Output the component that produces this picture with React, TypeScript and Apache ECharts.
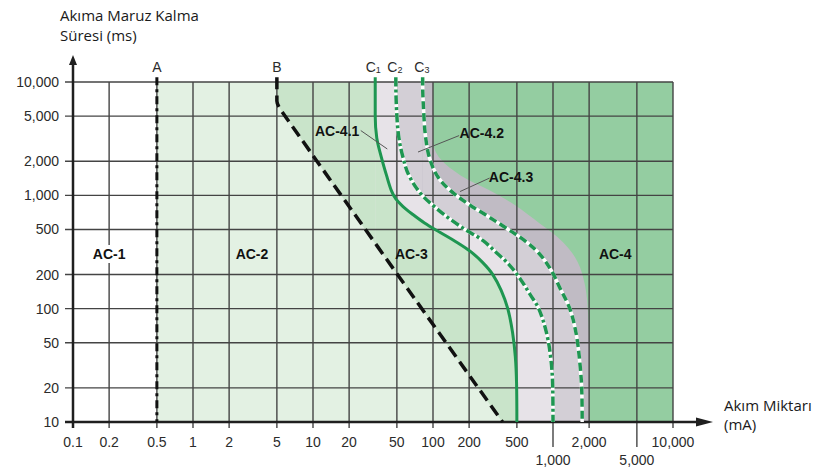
import { useEffect, useRef } from 'react';
import * as echarts from 'echarts';

// ---------- axis ticks ----------
const xTicks = [0.1, 0.2, 0.5, 1, 2, 5, 10, 20, 50, 100, 200, 500, 1000, 2000, 5000, 10000];
const xTickLabels = ['0.1', '0.2', '0.5', '1', '2', '5', '10', '20', '50', '100', '200', '500', '1,000', '2,000', '5,000', '10,000'];
const xTickLowered = ['1,000', '5,000'];
const yTicks = [10, 20, 50, 100, 200, 500, 1000, 2000, 5000, 10000];
const yTickLabels = ['10', '20', '50', '100', '200', '500', '1,000', '2,000', '5,000', '10,000'];

// ---------- boundary curves [current mA, time ms], top -> bottom ----------
const curveA = [[0.5, 10000], [0.5, 10]];
const curveB = [[5, 10000], [5, 6800], [5.5, 5500], [380, 10]];
const curveC1 = [[33, 10000], [33, 5000], [34, 3200], [37, 2200], [41, 1500], [45, 1100], [49, 930], [56, 800], [67, 685], [85, 570], [115, 470], [155, 390], [205, 320], [260, 255], [315, 200], [370, 145], [420, 100], [460, 62], [485, 38], [497, 22], [500, 10]];
const curveC2 = [[49, 10000], [50, 5000], [52, 3200], [56, 2200], [63, 1500], [80, 1020], [105, 780], [135, 630], [185, 500], [260, 400], [340, 310], [430, 245], [530, 185], [640, 135], [760, 100], [880, 62], [960, 36], [995, 20], [1000, 10]];
const curveC3 = [[82, 10000], [84, 5000], [87, 3200], [94, 2100], [110, 1450], [140, 1100], [190, 860], [270, 680], [400, 520], [560, 410], [760, 310], [960, 220], [1150, 150], [1380, 100], [1560, 60], [1680, 32], [1740, 18], [1750, 10]];
const curveAC43Edge = [[100, 10000], [100, 3000], [115, 2100], [170, 1500], [290, 1120], [480, 820], [780, 560], [1200, 390], [1600, 260], [1850, 160], [1960, 90], [2000, 40], [2000, 10]];
const curveFull = [[10000, 10000]];

// ---------- zone labels ----------
const zoneLabels = ['AC-1', 'AC-2', 'AC-3', 'AC-4', 'AC-4.1', 'AC-4.2', 'AC-4.3'];
const zoneLabelPos = [[0.2, 304], [3.1, 304], [66, 304], [3300, 304], [15.9, 3730], [255, 3580], [447, 1440]];
const leaderLines = [[25, 3730, 41.6, 2565], [165, 3366, 75, 2411], [296, 1420, 168, 1080]];
const curveNames = ['A', 'B', 'C', 'C', 'C'];
const curveSubs = ['', '', '1', '2', '3'];
const curveLabelAt = [0.5, 5, 33, 50, 84];

const X_MIN = 0.1, X_MAX = 10000, Y_MIN = 10, Y_MAX = 10000;

const GREEN = '#1e9651';
const GRID = '#444444';
const FONT = '"Liberation Sans", Arial, Helvetica, sans-serif';
const TITLE_FONT = '"Open Sans", "Noto Sans", sans-serif';

// region left of a curve = rectangle up to the curve's top point + area under the curve itself
function zone(curve: number[][], color: any, smooth: number) {
  const base = {
    type: 'line',
    symbol: 'none',
    lineStyle: { width: 0, opacity: 0 },
    areaStyle: { color, opacity: 1, origin: 'start' },
    z: 1,
    silent: true,
  };
  return [
    { ...base, data: [[X_MIN, Y_MAX], [curve[0][0], Y_MAX]] },
    { ...base, data: curve, smooth },
  ];
}

function boundary(curve: number[][], color: string, width: number, type: any, z: number, smooth: number) {
  return {
    type: 'line',
    data: [[curve[0][0], Y_MAX * 1.1], ...curve],
    symbol: 'none',
    clip: false,
    smooth,
    lineStyle: { color, width, type, cap: 'butt', join: 'round' },
    z,
    silent: true,
  };
}

const SM = 0.35;

function buildOption() {
  return {
    animation: false,
    backgroundColor: '#ffffff',
    grid: { left: 73, right: 153, top: 82, bottom: 48 },
    xAxis: {
      type: 'log', logBase: 10, min: X_MIN, max: X_MAX,
      axisLine: { show: false }, axisTick: { show: false }, axisLabel: { show: false }, splitLine: { show: false },
    },
    yAxis: {
      type: 'log', logBase: 10, min: Y_MIN, max: Y_MAX,
      axisLine: { show: false }, axisTick: { show: false }, axisLabel: { show: false }, splitLine: { show: false },
    },
    graphic: [
      { type: 'text', left: 60, top: 5, style: { text: 'Akıma Maruz Kalma\nSüresi (ms)', fontSize: 15, lineHeight: 20, fontFamily: TITLE_FONT, fill: '#1a1a1a' } },
      { type: 'text', left: 724, top: 395, style: { text: 'Akım Miktarı\n(mA)', fontSize: 15, lineHeight: 19, fontFamily: TITLE_FONT, fill: '#1a1a1a' } },
    ],
    series: [
      ...zone(curveFull, '#94cda1', 0),
      ...zone(curveAC43Edge, '#c0bbc4', SM),
      ...zone(curveC3, '#d3cfd6', SM),
      ...zone(curveC2, '#e7e3e8', SM),
      ...zone(curveC1, '#c9e4ca', SM),
      ...zone(curveB, '#e3f1e3', 0.3),
      ...zone(curveA, '#ffffff', 0),
      // vertical grid lines + x tick labels
      {
        type: 'custom',
        coordinateSystem: 'cartesian2d',
        data: xTicks.map((v) => [v, Y_MIN]),
        encode: { x: 0, y: 1 },
        z: 3,
        silent: true,
        renderItem: (params: any, api: any) => {
          const i = params.dataIndex;
          const v = api.value(0);
          const top = api.coord([v, Y_MAX]);
          const bot = api.coord([v, Y_MIN]);
          const low = xTickLowered.indexOf(xTickLabels[i]) >= 0;
          return {
            type: 'group',
            children: [
              {
                type: 'line',
                shape: { x1: top[0], y1: i === 0 ? bot[1] : top[1], x2: bot[0], y2: bot[1] + (low ? 25 : 6) },
                style: { stroke: GRID, lineWidth: 1.4 },
              },
              {
                type: 'text',
                style: {
                  text: xTickLabels[i], x: bot[0], y: bot[1] + (low ? 38 : 20),
                  align: 'center', verticalAlign: 'middle',
                  fontSize: 14, fontFamily: FONT, fill: '#2b2b2b',
                },
              },
            ],
          };
        },
      },
      // horizontal grid lines + y tick labels
      {
        type: 'custom',
        coordinateSystem: 'cartesian2d',
        data: yTicks.map((v) => [X_MIN, v]),
        encode: { x: 0, y: 1 },
        z: 3,
        silent: true,
        renderItem: (params: any, api: any) => {
          const i = params.dataIndex;
          const v = api.value(1);
          const l = api.coord([X_MIN, v]);
          const r = api.coord([X_MAX, v]);
          return {
            type: 'group',
            children: [
              {
                type: 'line',
                shape: { x1: l[0] - 8, y1: l[1], x2: r[0], y2: r[1] },
                style: { stroke: GRID, lineWidth: 1.4 },
              },
              {
                type: 'text',
                style: {
                  text: yTickLabels[i], x: l[0] - 14, y: l[1],
                  align: 'right', verticalAlign: 'middle',
                  fontSize: 14, fontFamily: FONT, fill: '#2b2b2b',
                },
              },
            ],
          };
        },
      },
      // axes with arrows
      {
        type: 'custom',
        coordinateSystem: 'cartesian2d',
        data: [[X_MIN, Y_MIN]],
        encode: { x: 0, y: 1 },
        z: 4,
        silent: true,
        renderItem: (params: any, api: any) => {
          const o = api.coord([X_MIN, Y_MIN]);
          const t = api.coord([X_MIN, Y_MAX]);
          const r = api.coord([X_MAX, Y_MIN]);
          const yTip = t[1] - 27;
          const xTip = r[0] + 40;
          return {
            type: 'group',
            children: [
              { type: 'line', shape: { x1: o[0], y1: o[1] + 6, x2: o[0], y2: yTip + 6 }, style: { stroke: '#1f1f1f', lineWidth: 2.5 } },
              { type: 'polygon', shape: { points: [[o[0], yTip], [o[0] - 4, yTip + 10], [o[0] + 4, yTip + 10]] }, style: { fill: '#1f1f1f' } },
              { type: 'line', shape: { x1: o[0] - 8, y1: o[1], x2: xTip - 10, y2: o[1] }, style: { stroke: '#1f1f1f', lineWidth: 2.5 } },
              { type: 'polygon', shape: { points: [[xTip, o[1]], [xTip - 17, o[1] - 4.5], [xTip - 17, o[1] + 4.5]] }, style: { fill: '#1f1f1f' } },
            ],
          };
        },
      },
      // boundary lines
      boundary(curveA, '#111', 3, [8, 4, 3, 4], 6, 0),
      boundary(curveB, '#111', 3.5, [12, 6], 6, 0.3),
      boundary(curveC1, GREEN, 3, 'solid', 6, SM),
      boundary(curveC2, '#ffffff', 3.5, 'solid', 6, SM),
      boundary(curveC2, GREEN, 3.5, [9, 3, 3, 3], 7, SM),
      boundary(curveC3, '#ffffff', 3.5, 'solid', 6, SM),
      boundary(curveC3, GREEN, 3.5, [8, 4], 7, SM),
      // leader lines
      {
        type: 'custom',
        coordinateSystem: 'cartesian2d',
        data: leaderLines,
        encode: { x: 0, y: 1 },
        z: 8,
        silent: true,
        renderItem: (params: any, api: any) => {
          const p1 = api.coord([api.value(0), api.value(1)]);
          const p2 = api.coord([api.value(2), api.value(3)]);
          return { type: 'line', shape: { x1: p1[0], y1: p1[1], x2: p2[0], y2: p2[1] }, style: { stroke: '#555', lineWidth: 1 } };
        },
      },
      // zone labels
      {
        type: 'custom',
        coordinateSystem: 'cartesian2d',
        data: zoneLabelPos,
        encode: { x: 0, y: 1 },
        z: 9,
        silent: true,
        renderItem: (params: any, api: any) => {
          const i = params.dataIndex;
          const p = api.coord([api.value(0), api.value(1)]);
          const isAC1 = zoneLabels[i] === 'AC-1';
          return {
            type: 'text',
            style: {
              text: zoneLabels[i], x: p[0], y: p[1], align: 'center', verticalAlign: 'middle',
              fontSize: 14, fontWeight: 'bold', fontFamily: FONT, fill: '#111',
              backgroundColor: isAC1 ? '#ffffff' : undefined, padding: isAC1 ? [2, 2] : 0,
            },
          };
        },
      },
      // curve labels
      {
        type: 'custom',
        coordinateSystem: 'cartesian2d',
        data: curveLabelAt.map((v) => [v, Y_MAX]),
        encode: { x: 0, y: 1 },
        z: 9,
        silent: true,
        renderItem: (params: any, api: any) => {
          const i = params.dataIndex;
          const p = api.coord([api.value(0), Y_MAX]);
          const sub = curveSubs[i];
          return {
            type: 'text',
            style: {
              text: sub ? `{c|${curveNames[i]}}{s|${sub}}` : `{c|${curveNames[i]}}`,
              x: p[0] - (sub ? 2 : 0), y: p[1] - 16, align: 'center', verticalAlign: 'middle',
              rich: {
                c: { fontSize: 14, fontFamily: FONT, fill: '#2b2b2b', color: '#2b2b2b', lineHeight: 16, verticalAlign: 'bottom' },
                s: { fontSize: 9, fontFamily: FONT, fill: '#2b2b2b', color: '#2b2b2b', lineHeight: 16, verticalAlign: 'bottom', padding: [6, 0, 0, 0] },
              },
            },
          };
        },
      },
    ],
  };
}

export default function App() {
  const ref = useRef<HTMLDivElement>(null);
  useEffect(() => {
    const chart = echarts.init(ref.current as HTMLDivElement, null, { renderer: 'svg' });
    chart.setOption(buildOption() as any);
    return () => chart.dispose();
  }, []);
  return (
    <div
      ref={ref}
      style={{ position: 'absolute', left: 0, top: 0, width: 826, height: 470, background: '#ffffff' }}
    />
  );
}
